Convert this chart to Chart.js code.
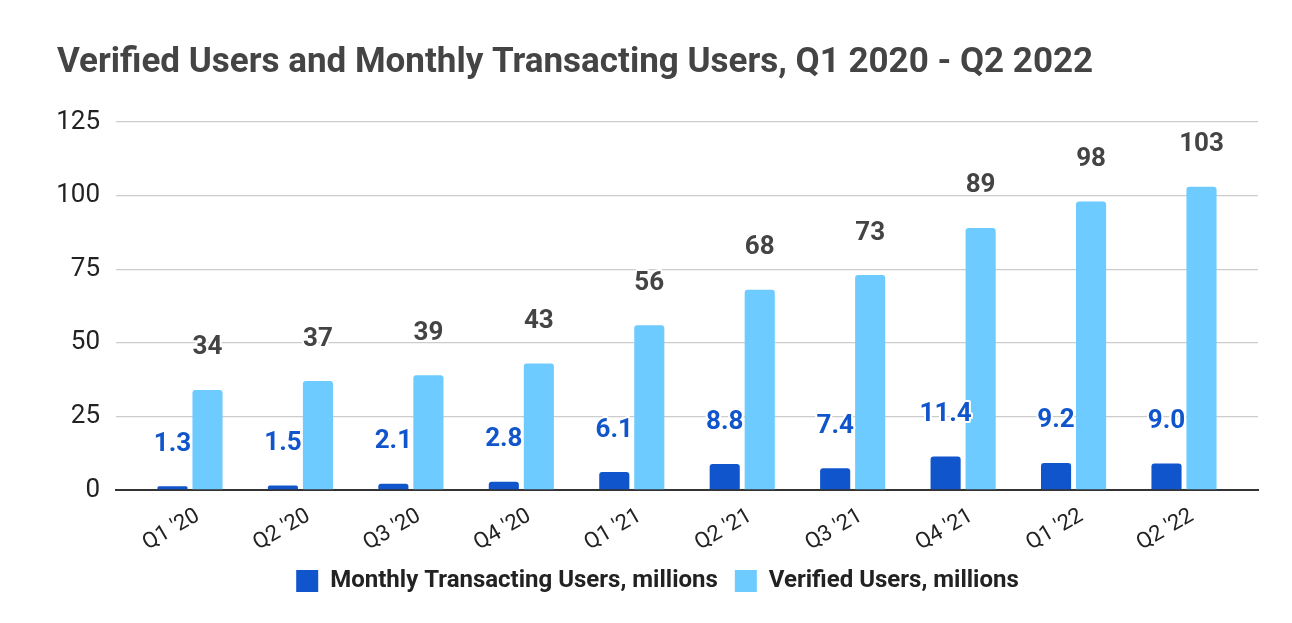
<!DOCTYPE html>
<html>
<head>
<meta charset="utf-8">
<script src="https://cdn.jsdelivr.net/npm/chart.js@4.4.1/dist/chart.umd.min.js"></script>
<style>
  html, body { margin: 0; padding: 0; background: #fff; }
  #wrap { width: 1292px; height: 623px; }
</style>
</head>
<body>
<div id="wrap"><canvas id="usersChart"></canvas></div>
<script>
const QUARTERS = ["Q1 '20", "Q2 '20", "Q3 '20", "Q4 '20", "Q1 '21", "Q2 '21", "Q3 '21", "Q4 '21", "Q1 '22", "Q2 '22"];
const MONTHLY_TRANSACTING = [1.3, 1.5, 2.1, 2.8, 6.1, 8.8, 7.4, 11.4, 9.2, 9.0];
const VERIFIED = [34, 37, 39, 43, 56, 68, 73, 89, 98, 103];
const Y_TICKS = [0, 25, 50, 75, 100, 125];

// bar labels with a white halo, sitting a fixed gap above each bar
const barLabels = {
  id: "barLabels",
  afterDatasetsDraw(chart) {
    const ctx = chart.ctx;
    chart.data.datasets.forEach((ds, di) => {
      const meta = chart.getDatasetMeta(di);
      ctx.save();
      ctx.font = "bold " + ds.labelSize + "px Roboto";
      ctx.textAlign = "center";
      ctx.textBaseline = "middle";
      ctx.lineJoin = "round";
      meta.data.forEach((bar, i) => {
        const txt = ds.labelFormat(ds.data[i].y);
        const y = bar.y - 42;
        ctx.strokeStyle = "#fff";
        ctx.lineWidth = 4;
        ctx.strokeText(txt, bar.x, y);
        ctx.fillStyle = ds.labelColor;
        ctx.fillText(txt, bar.x, y);
      });
      ctx.restore();
    });
  }
};

const toPoints = (vals) => vals.map((v, i) => ({ x: i, y: v }));

new Chart(document.getElementById("usersChart"), {
  type: "bar",
  data: {
    datasets: [
      {
        label: "Monthly Transacting Users, millions",
        data: toPoints(MONTHLY_TRANSACTING),
        backgroundColor: "#1155cc",
        borderRadius: { topLeft: 3, topRight: 3 },
        borderSkipped: "bottom",
        labelColor: "#1155cc",
        labelSize: 26,
        labelFormat: (v) => v.toFixed(1)
      },
      {
        label: "Verified Users, millions",
        data: toPoints(VERIFIED),
        backgroundColor: "#6ecbff",
        borderRadius: { topLeft: 3, topRight: 3 },
        borderSkipped: "bottom",
        labelColor: "#444444",
        labelSize: 26,
        labelFormat: (v) => String(v)
      }
    ]
  },
  options: {
    responsive: true,
    maintainAspectRatio: false,
    animation: false,
    categoryPercentage: 0.634,
    barPercentage: 0.86,
    layout: { padding: { left: 57, right: 34, top: 42, bottom: 20 } },
    plugins: {
      title: {
        display: true,
        text: "Verified Users and Monthly Transacting Users, Q1 2020 - Q2 2022",
        align: "start",
        color: "#444444",
        font: { family: "Roboto", size: 35, weight: "bold" },
        padding: { top: 0, bottom: 38 }
      },
      legend: {
        position: "bottom",
        labels: {
          boxWidth: 22,
          boxHeight: 22,
          padding: 17,
          color: "#222222",
          font: { family: "Roboto", size: 24, weight: "bold" }
        }
      },
      tooltip: { enabled: false }
    },
    scales: {
      x: {
        type: "linear",
        min: -0.67,
        max: 9.67,
        offset: false,
        afterFit: (scale) => { scale.height = 62; },
        grid: { display: false, offset: false },
        border: { display: true, color: "#333333", width: 2 },
        ticks: {
          stepSize: 1,
          includeBounds: false,
          autoSkip: false,
          minRotation: 30,
          maxRotation: 30,
          labelOffset: 8,
          padding: 5,
          color: "#222222",
          font: { family: "Roboto", size: 22 },
          callback: (v) => (Number.isInteger(v) ? QUARTERS[v] : "")
        }
      },
      y: {
        min: 0,
        max: 125,
        afterBuildTicks: (scale) => { scale.ticks = Y_TICKS.map((v) => ({ value: v })); },
        afterFit: (scale) => { scale.width = 59; },
        grid: { color: "#cccccc", lineWidth: 1.3, drawTicks: false },
        border: { display: false },
        ticks: {
          padding: 16,
          color: "#222222",
          font: { family: "Roboto", size: 26 }
        }
      }
    }
  },
  plugins: [barLabels]
});
</script>
</body>
</html>
